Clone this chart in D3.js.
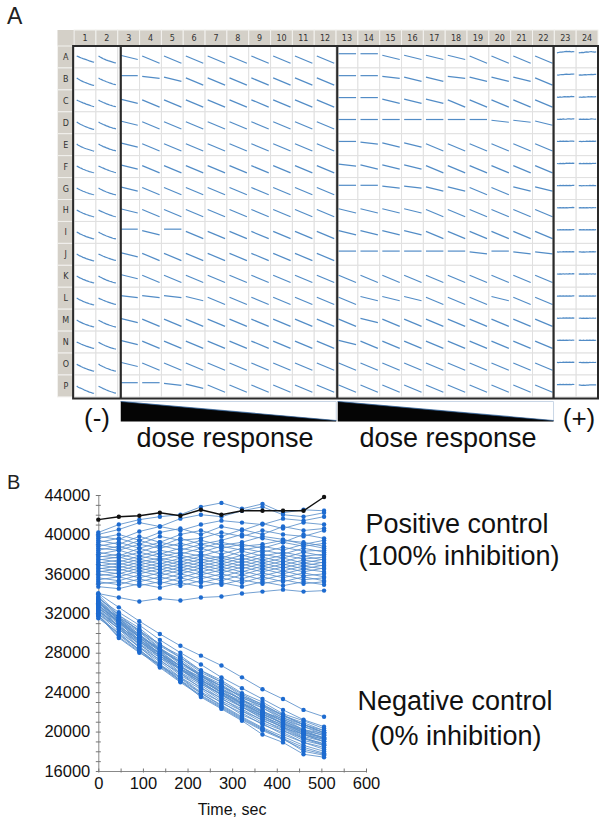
<!DOCTYPE html>
<html><head><meta charset="utf-8">
<script src="https://cdn.jsdelivr.net/npm/d3@7/dist/d3.min.js"></script>
<style>body{margin:0;background:#fff}svg{display:block}</style>
</head><body>
<script>
// ---------------- DATA ----------------
const rowLabels = ["A","B","C","D","E","F","G","H","I","J","K","L","M","N","O","P"];
const colLabels = ["1","2","3","4","5","6","7","8","9","10","11","12","13","14","15","16","17","18","19","20","21","22","23","24"];
const times = [0,46,92,138,184,230,276,322,368,414,460,506];
const UNIT = 100; // trace values below are in hundreds of RFU
const topTrace = [415,418,419,422,419,425,420,424,424,424,424,438];
const negTraces = [
 [340,326,312,299,287,277,267,255,243,233,222,215],
 [339,318,302,285,271,257,246,236,226,216,207,199],
 [337,316,298,281,266,252,240,228,216,206,197,190],
 [336,318,305,288,277,262,252,239,230,218,211,203],
 [335,321,308,293,280,268,255,244,233,222,212,205],
 [334,316,303,287,275,260,250,236,228,216,209,201],
 [334,313,295,279,264,250,237,225,214,204,194,187],
 [333,314,301,284,273,258,248,234,226,214,207,199],
 [332,310,293,277,263,250,238,228,218,208,198,192],
 [332,313,299,282,271,256,246,232,224,212,205,197],
 [331,315,296,284,268,257,242,233,220,213,202,198],
 [330,316,302,289,275,262,250,238,227,217,207,201],
 [330,313,295,282,266,255,240,231,219,211,201,196],
 [329,310,296,279,267,252,242,229,220,208,201,193],
 [328,312,293,280,264,253,239,229,217,209,199,194],
 [328,312,298,284,270,256,244,232,221,210,200,194],
 [327,311,291,279,262,251,237,227,215,207,197,192],
 [326,307,292,275,263,248,238,225,216,204,197,190],
 [326,309,289,277,260,249,235,225,213,205,195,190],
 [325,311,297,283,270,258,246,235,224,214,205,199],
 [324,307,288,275,259,247,233,223,211,203,193,188],
 [323,304,289,272,259,244,234,221,212,201,193,186],
 [323,306,286,273,257,245,231,221,209,201,191,186],
 [322,307,293,279,266,254,243,232,221,211,202,196],
 [321,304,285,271,255,243,229,219,207,199,189,184],
 [320,301,286,268,255,240,230,217,208,197,189,182],
 [319,305,291,277,264,252,240,229,218,208,199,193],
 [318,299,283,267,252,239,227,215,204,195,186,180],
 [317,298,282,266,251,237,225,213,202,193,184,178],
 [318,296,281,265,250,236,224,212,201,192,182,177],
 [318,295,280,268,252,235,223,211,197,189,177,174],
 [315,300,283,267,254,239,226,214,203,193,180,176]
];
const posTraces = [
 [402,410,415,418,420,428,432,426,431,422,425,424],
 [400,405,412,408,416,420,418,424,428,420,418,422],
 [398,395,403,408,404,410,414,412,410,416,414,418],
 [396,400,394,402,406,400,408,404,411,406,412,410],
 [394,390,398,392,400,404,398,405,400,408,404,406],
 [392,396,390,398,394,396,402,398,404,400,398,404],
 [390,386,394,388,396,390,394,400,396,392,400,396],
 [388,392,386,392,388,394,389,392,398,395,390,394],
 [386,384,390,386,391,386,392,388,390,394,392,388],
 [384,388,382,389,384,390,386,390,386,392,388,391],
 [382,378,386,380,386,382,388,384,388,384,390,386],
 [380,384,378,384,380,386,380,386,382,387,383,384],
 [378,376,382,377,382,378,384,378,384,380,386,382],
 [377,380,375,381,376,380,376,383,378,382,378,380],
 [375,372,378,374,379,374,378,374,380,376,382,378],
 [374,377,372,376,372,378,373,379,374,379,375,377],
 [372,369,375,370,376,371,376,371,377,372,378,374],
 [371,374,369,374,369,375,370,376,371,376,371,375],
 [369,366,372,367,373,368,373,368,374,369,374,371],
 [368,371,366,371,366,372,367,373,368,373,368,372],
 [366,363,369,364,370,365,370,365,371,366,371,368],
 [365,368,363,368,363,369,364,370,365,370,365,369],
 [363,360,366,361,367,362,367,362,368,363,368,365],
 [362,365,360,365,360,366,361,367,362,367,362,366],
 [360,357,363,358,364,359,364,359,365,360,365,362],
 [358,361,356,361,356,362,357,363,358,363,358,360],
 [356,353,359,354,360,355,360,355,361,356,361,357],
 [354,357,352,357,352,358,353,359,354,359,354,356],
 [352,349,355,350,356,351,356,351,357,352,357,353],
 [350,352,348,352,348,353,349,354,350,354,350,352],
 [347,345,350,346,351,347,351,347,352,348,352,349],
 [340,336,332,335,333,336,337,340,342,344,342,343]
];
// dose-response wells, columns 3..22: slope class per well (0 flat ... 3 full decline)
const doseCodes = [
 "23333333330022223333",
 "01233333330012212223",
 "23333333330022233333",
 "23333333330000000112",
 "23333333330122333333",
 "23333333331222333333",
 "23333333330011223322",
 "23333333332222333333",
 "02033333332222333333",
 "23333333330000001011",
 "23333333333333333333",
 "11123333333222333233",
 "23333333333233333333",
 "23333333332333333333",
 "23333333333333333333",
 "00123333333333333333"
];
const doseStart = [385, 370, 355, 340]; // hundreds RFU by slope class
const doseEnd   = [385, 330, 270, 195];
const yTicks = [16000,20000,24000,28000,32000,36000,40000,44000];
const xTicks = [0,100,200,300,400,500,600];

// ---------------- DRAW ----------------
const W = 609, H = 824;
const svg = d3.select("body").append("svg").attr("width", W).attr("height", H);
const FONT = "'Liberation Sans', Arial, sans-serif";

// ===== Panel A =====
const colX = d3.scaleBand().domain(colLabels).range([74.1, 598]);
const rowY = d3.scaleBand().domain(rowLabels).range([46, 396.9]);
const cw = colX.bandwidth(), rh = rowY.bandwidth();
const gA = svg.append("g");

svg.append("text").attr("x", 7).attr("y", 24).attr("font-family", FONT)
  .attr("font-size", 23).attr("fill", "#222").text("A");

// header row
gA.append("rect").attr("x", 57.5).attr("y", 30).attr("width", 16.6).attr("height", 16).attr("fill", "#d4d0c8");
gA.selectAll("rect.hc").data(colLabels).join("rect").attr("class","hc")
  .attr("x", d => colX(d)).attr("y", 30).attr("width", cw).attr("height", 16)
  .attr("fill", "#d4d0c8").attr("stroke", "#f2f1ee").attr("stroke-width", 1);
gA.selectAll("text.hc").data(colLabels).join("text").attr("class","hc")
  .attr("x", d => colX(d) + cw/2).attr("y", 41).attr("text-anchor","middle")
  .attr("font-family","'DejaVu Sans', sans-serif").attr("font-size", 8).attr("fill","#333").text(d => d);
// row labels
gA.selectAll("rect.rc").data(rowLabels).join("rect").attr("class","rc")
  .attr("x", 57.5).attr("y", d => rowY(d)).attr("width", 16.6).attr("height", rh)
  .attr("fill", "#d4d0c8").attr("stroke", "#f2f1ee").attr("stroke-width", 1);
gA.selectAll("text.rc").data(rowLabels).join("text").attr("class","rc")
  .attr("x", 65.8).attr("y", d => rowY(d) + rh/2 + 3).attr("text-anchor","middle")
  .attr("font-family","'DejaVu Sans', sans-serif").attr("font-size", 8).attr("fill","#333").text(d => d);

// wells
const wells = [];
rowLabels.forEach((r, ri) => colLabels.forEach((c, ci) => {
  let vals;
  if (ci < 2) vals = negTraces[ri*2 + ci];
  else if (ci > 21) vals = posTraces[ri*2 + (ci-22)];
  else { const k = +doseCodes[ri][ci-2]; vals = [doseStart[k], doseEnd[k]]; }
  wells.push({r, c, vals});
}));
gA.selectAll("rect.well").data(wells).join("rect").attr("class","well")
  .attr("x", d => colX(d.c)).attr("y", d => rowY(d.r)).attr("width", cw).attr("height", rh)
  .attr("fill","#fff").attr("stroke","#e0e0e0").attr("stroke-width", 1);
gA.selectAll("path.trace").data(wells).join("path").attr("class","trace")
  .attr("d", d => {
    const x0 = colX(d.c), cy = rowY(d.r) + rh/2;
    const tx = d3.scaleLinear().domain([0, 506]).range([x0 + 2.6, x0 + 20]);
    const ty = d3.scaleLinear().domain([160, 440]).range([cy + 8, cy - 6]);
    const tt = d.vals.length === 2 ? [0, 506] : times;
    return d3.line().x((v,i) => tx(tt[i])).y(v => ty(v))(d.vals);
  })
  .attr("fill","none").attr("stroke","#3f7fc0").attr("stroke-width", 1.2).attr("opacity", 0.9);

// thick group borders
const bx = [colX("1") - 1, colX("3") + 3, colX("13") + 1.2, colX("23") - 0.8, colX("24") + cw];
gA.append("rect").attr("x", bx[0]).attr("y", 46).attr("width", bx[4]-bx[0]).attr("height", 352.5)
  .attr("fill","none").attr("stroke","#2a2a2a").attr("stroke-width", 2);
gA.selectAll("line.sep").data(bx.slice(1,4)).join("line").attr("class","sep")
  .attr("x1", d => d).attr("x2", d => d).attr("y1", 46).attr("y2", 398.5)
  .attr("stroke","#2a2a2a").attr("stroke-width", 2.2);

// dose wedges
[[bx[1], bx[2]-1], [bx[2]+0.5, bx[3]]].forEach(([a, b]) => {
  gA.append("path").attr("d", `M${a},401.5 L${b},401.5 L${b},421 Z`)
    .attr("fill","#fff").attr("stroke","#c9d6e6").attr("stroke-width", 1);
  gA.append("path").attr("d", `M${a},401.5 L${b},420.5 L${b},421.5 L${a},421.5 Z`)
    .attr("fill","#050505");
  gA.append("line").attr("x1", a).attr("y1", 401.5).attr("x2", b).attr("y2", 420.5)
    .attr("stroke","#2b5d96").attr("stroke-width", 1.2).attr("opacity", 0.7);
});
const lab = (x, y, s, t, anchor="middle") => svg.append("text").attr("x", x).attr("y", y)
  .attr("text-anchor", anchor).attr("font-family", FONT).attr("font-size", s).attr("fill", "#111").text(t);
lab(97, 427, 26, "(-)");
lab(579, 427, 26, "(+)");
lab(225, 446.5, 27, "dose response");
lab(448, 446.5, 27, "dose response");

// ===== Panel B =====
svg.append("text").attr("x", 7).attr("y", 489).attr("font-family", FONT)
  .attr("font-size", 20).attr("fill", "#222").text("B");
const x = d3.scaleLinear().domain([0, 600]).range([98.3, 366]);
const y = d3.scaleLinear().domain([16000, 44000]).range([771, 495]);
const gB = svg.append("g");

// minor ticks
const yAxisMinor = d3.axisLeft(y).tickValues(d3.range(16000, 44001, 1000)).tickSizeInner(-2.5).tickSizeOuter(0).tickFormat("");
gB.append("g").attr("transform", `translate(${x(0)},0)`).call(yAxisMinor)
  .call(g => g.selectAll("line").attr("stroke","#777").attr("x1", -2.5))
  .call(g => g.select(".domain").attr("stroke","#888"));
const xAxisMinor = d3.axisBottom(x).tickValues(d3.range(0, 601, 50)).tickSizeInner(-2.5).tickSizeOuter(0).tickFormat("");
gB.append("g").attr("transform", `translate(0,${y(16000)})`).call(xAxisMinor)
  .call(g => g.selectAll("line").attr("stroke","#777").attr("y1", 1.5))
  .call(g => g.select(".domain").attr("stroke","#888"));
// labels
gB.append("g").attr("transform", `translate(${x(0)},0)`)
  .call(d3.axisLeft(y).tickValues(yTicks).tickSize(0).tickPadding(8).tickFormat(d3.format("d")))
  .call(g => g.select(".domain").remove())
  .call(g => g.selectAll("text").attr("font-family", FONT).attr("font-size", 16.5).attr("fill","#111"));
gB.append("g").attr("transform", `translate(0,${y(16000)})`)
  .call(d3.axisBottom(x).tickValues(xTicks).tickSize(0).tickPadding(6).tickFormat(d3.format("d")))
  .call(g => g.select(".domain").remove())
  .call(g => g.selectAll("text").attr("font-family", FONT).attr("font-size", 16.5).attr("fill","#111"));
lab(232, 815, 16, "Time, sec");

const line = d3.line().x((v,i) => x(times[i])).y(v => y(v*UNIT));
const allTraces = negTraces.concat(posTraces);
gB.selectAll("path.bl").data(allTraces).join("path").attr("class","bl")
  .attr("d", line).attr("fill","none").attr("stroke","#5a8fca").attr("stroke-width", 1).attr("opacity", 0.85);
const pts = [];
allTraces.forEach(tr => tr.forEach((v,i) => pts.push([times[i], v])));
gB.selectAll("circle.bp").data(pts).join("circle").attr("class","bp")
  .attr("cx", d => x(d[0])).attr("cy", d => y(d[1]*UNIT)).attr("r", 2.2).attr("fill","#1d6bd0");
gB.append("path").attr("d", line(topTrace)).attr("fill","none").attr("stroke","#111").attr("stroke-width", 1.4);
gB.selectAll("circle.kp").data(topTrace).join("circle").attr("class","kp")
  .attr("cx", (v,i) => x(times[i])).attr("cy", v => y(v*UNIT)).attr("r", 2.2).attr("fill","#111");

lab(457, 533, 27, "Positive control");
lab(459, 565, 27, "(100% inhibition)");
lab(455, 710, 27, "Negative control");
lab(456, 745, 27, "(0% inhibition)");
</script>
</body></html>
